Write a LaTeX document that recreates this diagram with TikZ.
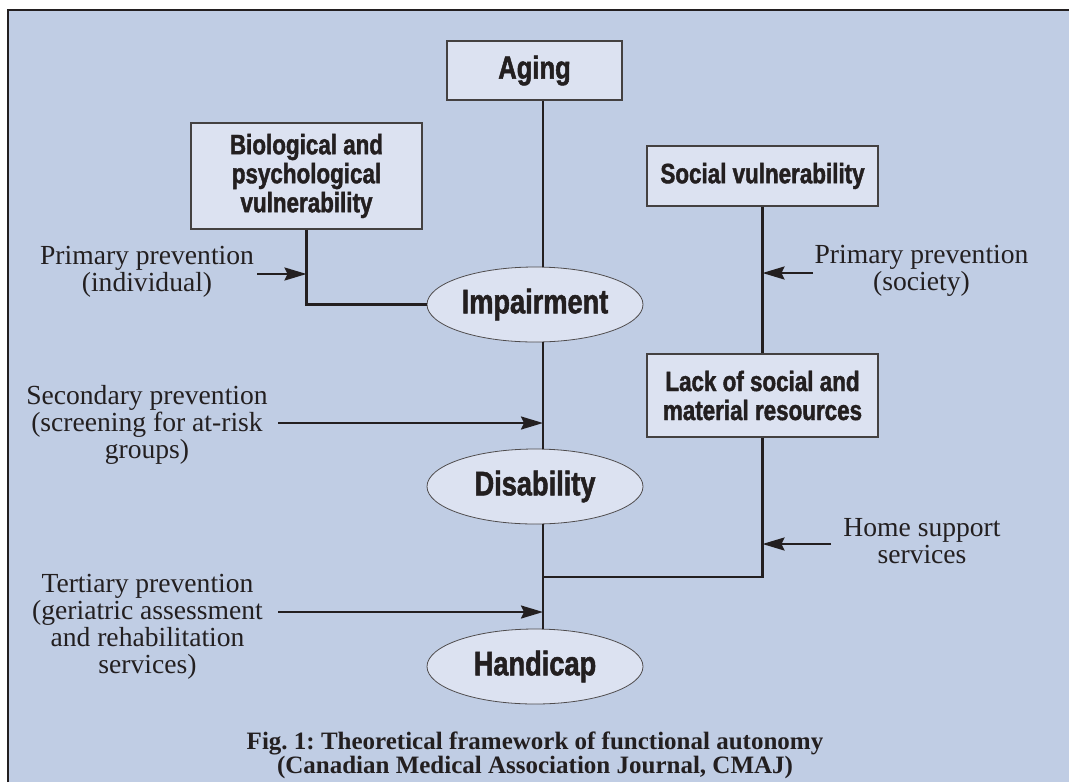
\documentclass[tikz,border=0pt]{standalone}
\usepackage{fontspec}
\setmainfont{Liberation Serif}
\newfontfamily\headfont[FakeStretch=0.8, BoldFeatures={FakeBold=1.5}]{Liberation Sans}
\usepackage{xcolor}
\usetikzlibrary{arrows.meta,shapes.geometric}
\definecolor{panel}{HTML}{C0CDE4}
\definecolor{boxfill}{HTML}{DCE2F1}
\definecolor{ink}{HTML}{231F20}
\newcommand{\linkwidth}{1.1pt}
\frenchspacing

\begin{document}
\begin{tikzpicture}[x=0.5pt, y=-0.5pt,
  stage/.style={draw=ink!85, line width=0.6pt, fill=boxfill, text=ink, align=center,
    font=\headfont\bfseries\fontsize{14}{14.5}\selectfont, inner sep=0pt,
    minimum width=115.5pt},
  state/.style={ellipse, draw=ink!80, line width=0.4pt, fill=boxfill, text=ink,
    font=\headfont\bfseries\fontsize{17}{18}\selectfont, inner sep=0pt,
    minimum width=108pt, minimum height=37.5pt},
  note/.style={align=center, text=ink, font=\fontsize{13.8}{13.5}\selectfont, inner sep=0pt},
  link/.style={draw=ink, line width=\linkwidth},
  push/.style={link, -{Stealth[length=11pt, width=6.5pt, inset=1.5pt]}}]
\useasboundingbox (0,0) rectangle (1069,782);
\fill[panel] (8,10) rectangle (1069,782);
\draw[ink, line width=0.7pt] (8,782) -- (8,10) -- (1069,10);

\node[stage, minimum width=87.5pt, minimum height=29.5pt,
  font=\headfont\bfseries\fontsize{16}{17}\selectfont] (aging) at (534.5,70.5) {Aging};
\node[stage, minimum height=53pt] (bio) at (306.5,176)
  {Biological and\\psychological\\vulnerability};
\node[stage, minimum height=30pt] (social) at (762.5,176) {Social vulnerability};
\node[stage, minimum height=41.5pt] (lack) at (762.5,395.5)
  {Lack of social and\\material resources};
\node[state] (impair) at (535,304.5) {Impairment};
\node[state] (disab) at (535,486.5) {Disability};
\node[state] (handi) at (535,666.5) {Handicap};

\node[note] (indiv) at (147,271.5) {Primary prevention\\(individual)};
\node[note] (screen) at (147,425) {Secondary prevention\\(screening for at-risk\\groups)};
\node[note] (geri) at (147.5,627) {Tertiary prevention\\(geriatric assessment\\and rehabilitation\\services)};
\node[note] (society) at (921.5,271) {Primary prevention\\(society)};
\node[note] (home) at (922,541.5) {Home support\\services};

\coordinate (merge) at (543,577);
\coordinate (indivtail) at (257,274);
\coordinate (screentail) at (278,423);
\coordinate (geritail) at (278,612);
\coordinate (societytail) at (813,273);
\coordinate (hometail) at (831,544);

\draw[link] (aging.south -| merge) -- (impair.north -| merge);
\draw[link] (impair.south -| merge) -- (disab.north -| merge);
\draw[link] (disab.south -| merge) -- (handi.north -| merge);
\draw[link] (bio.south) |- (impair.west);
\draw[link] (social.south) -- (lack.north);
\draw[link] (lack.south) |- (merge);

\draw[push] (indivtail) -- (indivtail -| bio.south);
\draw[push] (screentail) -- (screentail -| merge);
\draw[push] (geritail) -- (geritail -| merge);
\draw[push] (societytail) -- (societytail -| social.south);
\draw[push] (hometail) -- (hometail -| lack.south);

\node[note, font=\bfseries\fontsize{12.5}{12}\selectfont] (caption) at (535,755)
  {Fig. 1: Theoretical framework of functional autonomy\\(Canadian Medical Association Journal, CMAJ)};
\end{tikzpicture}
\end{document}
